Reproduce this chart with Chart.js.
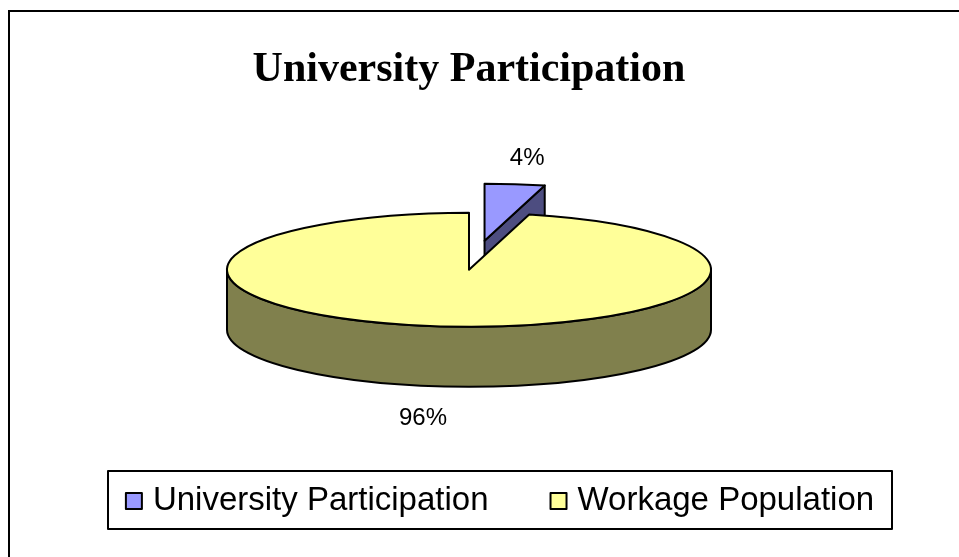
<!DOCTYPE html>
<html>
<head>
<meta charset="UTF-8" />
<script src="https://cdn.jsdelivr.net/npm/chart.js"></script>
<style>
  html, body { margin: 0; padding: 0; background: #fff; }
  #wrap { position: relative; width: 959px; height: 557px; }
</style>
</head>
<body>
<div id="wrap"><canvas id="chart" width="959" height="557"></canvas></div>
<script>
// data
const categories = ['University Participation', 'Workage Population'];
const shares = [4, 96];

// look
const topColors = ['#9999FF', '#FFFF99'];
const sideColors = ['#4D4D80', '#80804D'];
const explode = [124, 0]; // pull-out of each slice, in radius px
const tilt = 57 / 242;    // vertical squash of the pie
const depth = 60;         // thickness of the pie in px

function pivotY(chart) {
  return (chart.chartArea.top + chart.chartArea.bottom) / 2;
}

function arcGeom(chart, arc) {
  const p = arc.getProps(['x', 'y', 'startAngle', 'endAngle', 'outerRadius']);
  const py = pivotY(chart);
  return {
    cx: p.x,
    cy: py + (p.y - py) * tilt,
    r: p.outerRadius, s: p.startAngle, e: p.endAngle,
    half: (p.startAngle + p.endAngle) / 2
  };
}

function pt(g, a, dz) {
  return [g.cx + g.r * Math.cos(a), g.cy + g.r * tilt * Math.sin(a) + (dz || 0)];
}

function strokeFill(ctx, fill) {
  ctx.fillStyle = fill;
  ctx.fill();
  ctx.lineWidth = 2;
  ctx.lineJoin = 'round';
  ctx.strokeStyle = '#000';
  ctx.stroke();
}

const pie3d = {
  id: 'pie3d',
  afterDatasetUpdate(chart, args) {
    // explode slices by moving their centre along the mid angle (same radius)
    args.meta.data.forEach((arc, i) => {
      const d = explode[i] || 0;
      if (!d) return;
      const half = (arc.startAngle + arc.endAngle) / 2;
      arc.x += Math.cos(half) * d;
      arc.y += Math.sin(half) * d;
    });
  },
  beforeDatasetsDraw(chart) {
    const ctx = chart.ctx;
    const arcs = chart.getDatasetMeta(0).data;
    const geoms = arcs.map(a => arcGeom(chart, a));
    const order = geoms.map((g, i) => i)
      .sort((i, j) => Math.sin(geoms[i].half) - Math.sin(geoms[j].half));

    order.forEach(i => {
      const g = geoms[i];
      const col = sideColors[i];
      // cut faces
      [[g.s, -Math.cos(g.s)], [g.e, Math.cos(g.e)]].forEach(([a, facing]) => {
        if (facing <= 1e-6) return;
        const [x2, y2] = pt(g, a, 0);
        ctx.beginPath();
        ctx.moveTo(g.cx, g.cy);
        ctx.lineTo(x2, y2);
        ctx.lineTo(x2, y2 + depth);
        ctx.lineTo(g.cx, g.cy + depth);
        ctx.closePath();
        strokeFill(ctx, col);
      });
      // outer wall, front half only
      for (let n = -1; n <= 1; n++) {
        const lo = Math.max(g.s, 2 * Math.PI * n);
        const hi = Math.min(g.e, Math.PI + 2 * Math.PI * n);
        if (hi <= lo) continue;
        ctx.beginPath();
        ctx.ellipse(g.cx, g.cy, g.r, g.r * tilt, 0, lo, hi, false);
        ctx.ellipse(g.cx, g.cy + depth, g.r, g.r * tilt, 0, hi, lo, true);
        ctx.closePath();
        strokeFill(ctx, col);
      }
    });

    // squash the flat pie that Chart.js draws next
    const py = pivotY(chart);
    ctx.save();
    ctx.translate(0, py);
    ctx.scale(1, tilt);
    ctx.translate(0, -py);
  },
  afterDatasetsDraw(chart) {
    const ctx = chart.ctx;
    ctx.restore();
    const arcs = chart.getDatasetMeta(0).data;
    const vals = chart.data.datasets[0].data;
    const total = vals.reduce((a, b) => a + b, 0);

    arcs.forEach(arc => {
      const g = arcGeom(chart, arc);
      ctx.beginPath();
      ctx.moveTo(g.cx, g.cy);
      ctx.ellipse(g.cx, g.cy, g.r, g.r * tilt, 0, g.s, g.e, false);
      ctx.closePath();
      ctx.lineWidth = 2;
      ctx.lineJoin = 'round';
      ctx.strokeStyle = '#000';
      ctx.stroke();
    });

    // percentage labels
    ctx.font = '24px "Liberation Sans", Arial, sans-serif';
    ctx.fillStyle = '#000';
    ctx.textAlign = 'center';
    ctx.textBaseline = 'middle';
    arcs.forEach((arc, i) => {
      const g = arcGeom(chart, arc);
      const txt = Math.round(vals[i] / total * 100) + '%';
      const w = ctx.measureText(txt).width;
      const front = Math.sin(g.half) > 0;
      const [ax, ay] = pt(g, g.half, front ? depth : 0);
      const x = ax + Math.cos(g.half) * 29 + Math.sign(Math.cos(g.half)) * w * 0.25;
      const y = ay + Math.sin(g.half) * 29 + 3;
      ctx.fillText(txt, x, y);
    });
  }
};

const frameAndLegend = {
  id: 'frameAndLegend',
  beforeDraw(chart) {
    const ctx = chart.ctx;
    ctx.save();
    ctx.strokeStyle = '#000';
    ctx.lineWidth = 2;
    ctx.beginPath();
    ctx.moveTo(9, chart.height);
    ctx.lineTo(9, 11);
    ctx.lineTo(chart.width, 11);
    ctx.stroke();
    ctx.restore();
  },
  afterDraw(chart, args, opts) {
    const ctx = chart.ctx;
    const b = opts.box;
    ctx.save();
    ctx.strokeStyle = '#000';
    ctx.lineWidth = 2;
    ctx.strokeRect(b.left, b.top, b.right - b.left, b.bottom - b.top);

    ctx.font = opts.fontSize + 'px "Liberation Sans", Arial, sans-serif';
    ctx.textBaseline = 'middle';
    ctx.textAlign = 'left';
    const labels = chart.data.labels;
    const colors = chart.data.datasets[0].backgroundColor;
    const widths = labels.map(l => opts.swatch + opts.swatchGap + ctx.measureText(l).width);
    const total = widths.reduce((a, c) => a + c, 0) + opts.itemGap * (labels.length - 1);
    let x = (b.left + b.right) / 2 - total / 2;
    const y = (b.top + b.bottom) / 2 + 1;
    labels.forEach((l, i) => {
      ctx.fillStyle = colors[i];
      ctx.fillRect(x, y - opts.swatch / 2, opts.swatch, opts.swatch);
      ctx.strokeRect(x, y - opts.swatch / 2, opts.swatch, opts.swatch);
      ctx.fillStyle = '#000';
      ctx.fillText(l, x + opts.swatch + opts.swatchGap, y);
      x += widths[i] + opts.itemGap;
    });
    ctx.restore();
  }
};

new Chart(document.getElementById('chart'), {
  type: 'pie',
  data: {
    labels: categories,
    datasets: [{
      data: shares,
      backgroundColor: topColors,
      borderWidth: 0,
      radius: 242,
      clip: false
    }]
  },
  options: {
    responsive: false,
    devicePixelRatio: 1,
    animation: false,
    events: [],
    layout: { padding: { left: 0, right: 21, top: 0, bottom: 113 } },
    plugins: {
      legend: { display: false },
      tooltip: { enabled: false },
      title: {
        display: true,
        text: 'University Participation',
        color: '#000',
        font: { family: '"Liberation Serif", "Times New Roman", serif', size: 42, weight: 'bold', lineHeight: 1.2 },
        padding: { top: 45, bottom: 0 }
      },
      frameAndLegend: {
        box: { left: 108, top: 471, right: 892, bottom: 529 },
        fontSize: 33,
        swatch: 16,
        swatchGap: 11,
        itemGap: 62
      }
    }
  },
  plugins: [pie3d, frameAndLegend]
});
</script>
</body>
</html>
